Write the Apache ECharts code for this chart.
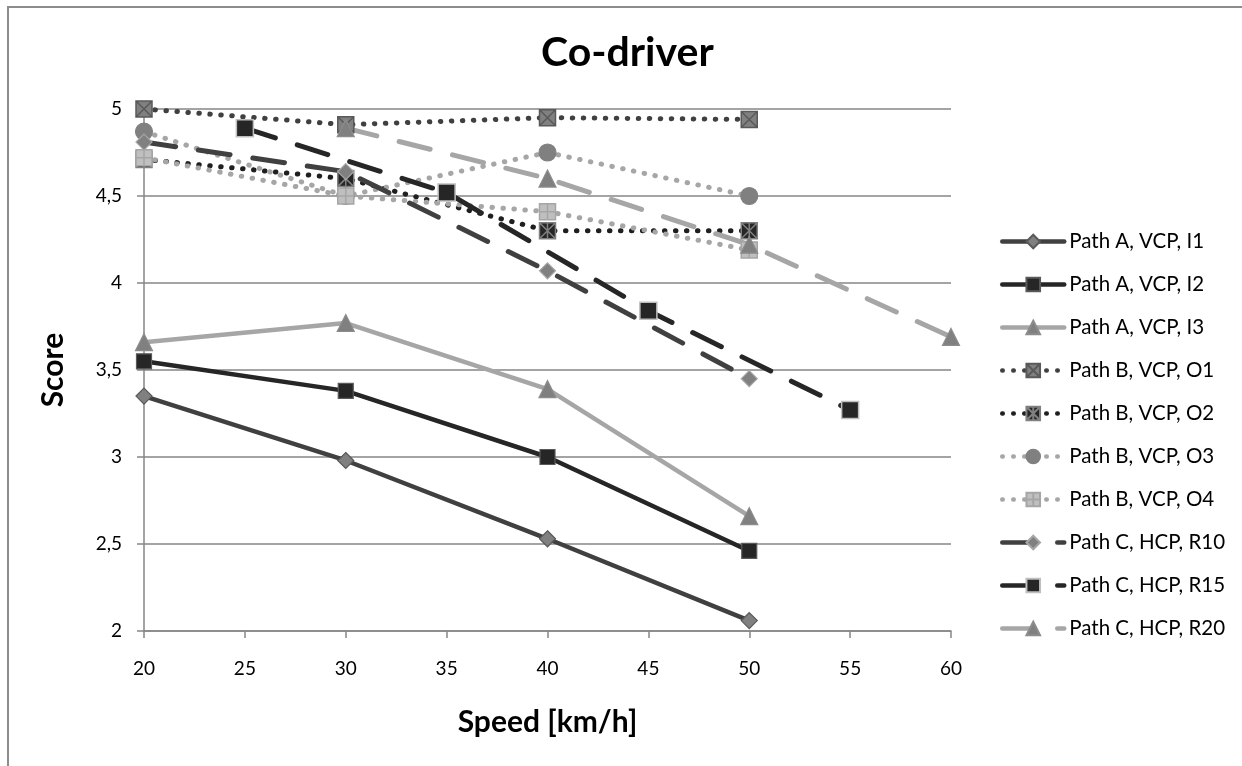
<!DOCTYPE html>
<html>
<head>
<meta charset="utf-8">
<script src="https://cdn.jsdelivr.net/npm/echarts@6/dist/echarts.min.js"></script>
<style>
html,body{margin:0;padding:0;background:#fff;}
#chart{width:1242px;height:766px;}
</style>
</head>
<body>
<div id="chart"></div>
<script>
// ---- data ----
const speedsA = [20, 30, 40, 50];
const speedsB = [20, 30, 40, 50];
const speedsR10 = [20, 30, 40, 50];
const speedsR15 = [25, 35, 45, 55];
const speedsR20 = [30, 40, 50, 60];

const pathA_I1 = [3.35, 2.98, 2.53, 2.06];
const pathA_I2 = [3.55, 3.38, 3.00, 2.46];
const pathA_I3 = [3.66, 3.77, 3.39, 2.66];
const pathB_O1 = [5.00, 4.91, 4.95, 4.94];
const pathB_O2 = [4.71, 4.60, 4.30, 4.30];
const pathB_O3 = [4.87, 4.50, 4.75, 4.50];
const pathB_O4 = [4.72, 4.50, 4.41, 4.19];
const pathC_R10 = [4.81, 4.64, 4.07, 3.45];
const pathC_R15 = [4.89, 4.52, 3.84, 3.27];
const pathC_R20 = [4.89, 4.60, 4.22, 3.69];

const seriesNames = [
  'Path A, VCP, I1', 'Path A, VCP, I2', 'Path A, VCP, I3',
  'Path B, VCP, O1', 'Path B, VCP, O2', 'Path B, VCP, O3', 'Path B, VCP, O4',
  'Path C, HCP, R10', 'Path C, HCP, R15', 'Path C, HCP, R20'
];

const xTicks = [20, 25, 30, 35, 40, 45, 50, 55, 60];
const yTicks = [2, 2.5, 3, 3.5, 4, 4.5, 5];

function pairs(xs, ys) { return xs.map((x, i) => [x, ys[i]]); }

const FONT = 'Lato';
const DOT = [0.5, 10.5];
const DASH = [32, 23];

const symX = 'path://M0 0 H10 V10 H0 Z M0 0 L10 10 M10 0 L0 10';
const symStar = 'path://M0 0 H10 V10 H0 Z M0 0 L10 10 M10 0 L0 10 M5 0 V10';
const symPlus = 'path://M0 0 H10 V10 H0 Z M5 0 V10 M0 5 H10';

function mk(name, xs, ys, o) {
  return {
    name: name,
    type: 'line',
    data: pairs(xs, ys),
    symbol: o.symbol,
    symbolSize: o.size,
    showSymbol: true,
    animation: false,
    lineStyle: { color: o.line, width: o.width || 4.5, type: o.type || 'solid', cap: o.cap || 'round' },
    itemStyle: { color: o.fill, borderColor: o.border, borderWidth: o.bw || 1.2 },
    emphasis: { disabled: true }
  };
}

const series = [
  mk(seriesNames[0], speedsA, pathA_I1, { symbol: 'diamond', size: 16, line: '#404040', fill: '#808080', border: '#595959' }),
  mk(seriesNames[1], speedsA, pathA_I2, { symbol: 'rect', size: 15, line: '#262626', fill: '#262626', border: '#595959' }),
  mk(seriesNames[2], speedsA, pathA_I3, { symbol: 'triangle', size: 17, line: '#a6a6a6', fill: '#808080', border: '#8c8c8c' }),
  mk(seriesNames[3], speedsB, pathB_O1, { symbol: symX, size: 16, line: '#404040', fill: '#808080', border: '#595959', type: DOT, cap: 'round', width: 5, bw: 1.5 }),
  mk(seriesNames[4], speedsB, pathB_O2, { symbol: symStar, size: 16, line: '#1f1f1f', fill: '#262626', border: '#808080', type: DOT, cap: 'round', width: 5, bw: 1.5 }),
  mk(seriesNames[5], speedsB, pathB_O3, { symbol: 'circle', size: 17, line: '#a6a6a6', fill: '#808080', border: '#808080', type: DOT, cap: 'round', width: 5 }),
  mk(seriesNames[6], speedsB, pathB_O4, { symbol: symPlus, size: 16, line: '#a6a6a6', fill: '#bfbfbf', border: '#a6a6a6', type: DOT, cap: 'round', width: 5, bw: 1.5 }),
  mk(seriesNames[7], speedsR10, pathC_R10, { symbol: 'diamond', size: 16, line: '#404040', fill: '#808080', border: '#a6a6a6', type: DASH, cap: 'round', width: 5 }),
  mk(seriesNames[8], speedsR15, pathC_R15, { symbol: 'rect', size: 17, line: '#262626', fill: '#262626', border: '#bfbfbf', type: DASH, cap: 'round', width: 5, bw: 1.5 }),
  mk(seriesNames[9], speedsR20, pathC_R20, { symbol: 'triangle', size: 17, line: '#a6a6a6', fill: '#808080', border: '#8c8c8c', type: DASH, cap: 'round', width: 5 })
];

const chart = echarts.init(document.getElementById('chart'), null, { renderer: 'canvas' });
chart.setOption({
  backgroundColor: '#ffffff',
  animation: false,
  textStyle: { fontFamily: FONT },
  title: {
    text: 'Co-driver',
    left: 536,
    top: 27,
    textStyle: { fontFamily: FONT, fontWeight: 'bold', fontSize: 41, color: '#000' }
  },
  graphic: [{
    type: 'rect',
    shape: { x: 8, y: 7, width: 1400, height: 900 },
    style: { fill: 'none', stroke: '#8c8c8c', lineWidth: 2 },
    silent: true,
    z: -10
  }],
  grid: { left: 144, right: 291, top: 109, bottom: 135, containLabel: false },
  legend: {
    orient: 'vertical',
    left: 995,
    top: 226,
    itemWidth: 62,
    itemHeight: 17,
    itemGap: 22,
    data: seriesNames,
    selectedMode: false,
    lineStyle: { width: 4.5 },
    textStyle: { fontFamily: FONT, fontSize: 20.5, color: '#000', lineHeight: 20 }
  },
  xAxis: {
    type: 'value',
    min: xTicks[0],
    max: xTicks[xTicks.length - 1],
    interval: 5,
    name: 'Speed [km/h]',
    nameLocation: 'middle',
    nameGap: 76,
    nameTextStyle: { fontFamily: FONT, fontWeight: 'bold', fontSize: 30, color: '#000' },
    axisLine: { show: true, onZero: false, lineStyle: { color: '#868686', width: 1.5 } },
    axisTick: { show: true, length: 7, lineStyle: { color: '#868686', width: 1.5 } },
    axisLabel: { fontFamily: FONT, fontSize: 19, color: '#000', margin: 28 },
    splitLine: { show: false }
  },
  yAxis: {
    type: 'value',
    min: yTicks[0],
    max: yTicks[yTicks.length - 1],
    interval: 0.5,
    name: 'Score',
    nameLocation: 'middle',
    nameGap: 76,
    nameRotate: 90,
    nameTextStyle: { fontFamily: FONT, fontWeight: 'bold', fontSize: 30, color: '#000' },
    axisLine: { show: true, onZero: false, lineStyle: { color: '#868686', width: 1.5 } },
    axisTick: { show: true, length: 7, lineStyle: { color: '#868686', width: 1.5 } },
    axisLabel: {
      fontFamily: FONT, fontSize: 19, color: '#000', margin: 22,
      formatter: v => String(v).replace('.', ',')
    },
    splitLine: { show: true, lineStyle: { color: '#868686', width: 1.5 } }
  },
  series: series
});
</script>
</body>
</html>
